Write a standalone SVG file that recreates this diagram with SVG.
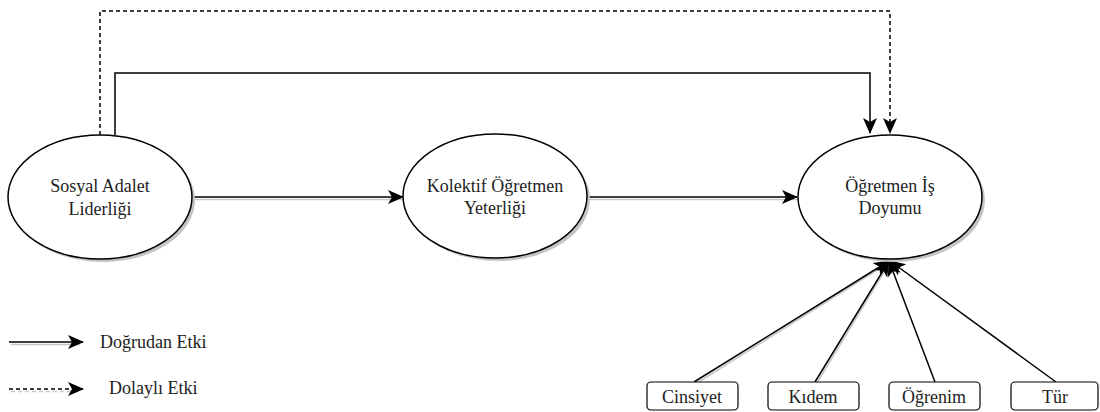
<svg xmlns="http://www.w3.org/2000/svg" width="1100" height="412" viewBox="0 0 1100 412" font-family="'Liberation Serif', 'DejaVu Serif', serif">
<style>
.e{fill:#fff;stroke:#000;stroke-width:1.5}
.es{fill:#c4c4c4;stroke:none}
.b{fill:#fff;stroke:#000;stroke-width:1.2}
.t{font-family:'Liberation Serif','DejaVu Serif',serif;font-size:18px;fill:#222;text-anchor:middle}
.lt{font-family:'Liberation Serif','DejaVu Serif',serif;font-size:18px;fill:#222}
.c{fill:none;stroke:#000;stroke-width:1.5}
.cs{fill:none;stroke:#c8c8c8;stroke-width:1.5}
.d{stroke-dasharray:4 3}
</style>
<defs>
<marker id="a" markerWidth="18" markerHeight="18" refX="15" refY="8" orient="auto" markerUnits="userSpaceOnUse">
<path d="M0,1 L16,8 L0,15 L4,8 Z" fill="#000"/>
</marker>
</defs>
<g id="connectors">
<path class="cs" d="M193,199.5 H404"/>
<path class="cs" d="M588,199.5 H798"/>
<path class="cs" d="M11,344.5 H80"/>
<path class="cs d" d="M11,391.5 H80"/>
<path class="cs" d="M697,383 L890,262"/>
<path class="cs" d="M817,383 L890,262"/>
<path class="c" d="M192,197 H403" marker-end="url(#a)"/>
<path class="c" d="M587,197 H797" marker-end="url(#a)"/>
<path class="c" d="M115,135 V73 H870 V133" marker-end="url(#a)"/>
<path class="c d" d="M100,135 V11 H890 V133" marker-end="url(#a)"/>
<path class="c" d="M694,382 L889,261" marker-end="url(#a)"/>
<path class="c" d="M815,382 L889,261" marker-end="url(#a)"/>
<path class="c" d="M935,382 L889,261" marker-end="url(#a)"/>
<path class="c" d="M1056,382 L890,261" marker-end="url(#a)"/>
<path class="c" d="M9,342 H83" marker-end="url(#a)"/>
<path class="c d" d="M9,389 H83" marker-end="url(#a)"/>
</g>
<g id="n1">
<ellipse class="es" cx="103" cy="200" rx="92" ry="62"/>
<ellipse class="e" cx="100" cy="197" rx="92" ry="62"/>
<text class="t" x="100" y="192">Sosyal Adalet</text>
<text class="t" x="100" y="215">Liderliği</text>
</g>
<g id="n2">
<ellipse class="es" cx="498" cy="199" rx="92" ry="62"/>
<ellipse class="e" cx="495" cy="196" rx="92" ry="62"/>
<text class="t" x="495" y="192">Kolektif Öğretmen</text>
<text class="t" x="495" y="214">Yeterliği</text>
</g>
<g id="n3">
<ellipse class="es" cx="893" cy="200" rx="92" ry="62"/>
<ellipse class="e" cx="890" cy="197" rx="92" ry="62"/>
<text class="t" x="890" y="192">Öğretmen İş</text>
<text class="t" x="890" y="214">Doyumu</text>
</g>
<g id="b1">
<rect class="b" x="647" y="382" width="91" height="28" rx="4"/>
<text class="t" x="692" y="403">Cinsiyet</text>
</g>
<g id="b2">
<rect class="b" x="768" y="382" width="91" height="28" rx="4"/>
<text class="t" x="813" y="403">Kıdem</text>
</g>
<g id="b3">
<rect class="b" x="889" y="382" width="91" height="28" rx="4"/>
<text class="t" x="934" y="403">Öğrenim</text>
</g>
<g id="b4">
<rect class="b" x="1011" y="382" width="87" height="28" rx="4"/>
<text class="t" x="1055" y="403">Tür</text>
</g>
<g id="legend">
<text class="lt" x="100" y="348">Doğrudan Etki</text>
<text class="lt" x="109" y="394">Dolaylı Etki</text>
</g>
</svg>
